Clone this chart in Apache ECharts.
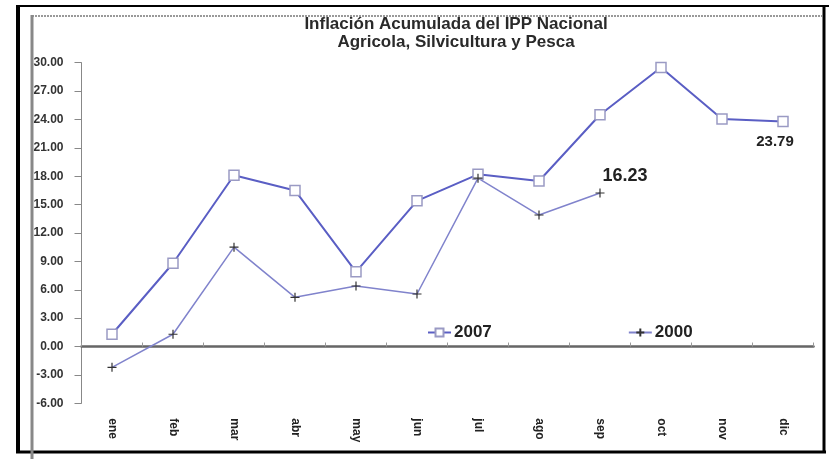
<!DOCTYPE html>
<html><head><meta charset="utf-8">
<script src="https://cdn.jsdelivr.net/npm/echarts@6/dist/echarts.min.js"></script>
<style>html,body{margin:0;padding:0;background:#fff}#c{width:829px;height:459px}</style>
</head><body><div id="c"></div>
<script>
var categories = ['ene','feb','mar','abr','may','jun','jul','ago','sep','oct','nov','dic'];
var values2007 = [1.3, 8.8, 18.1, 16.5, 7.9, 15.4, 18.2, 17.5, 24.5, 29.5, 24.05, 23.79];
var values2000 = [-2.2, 1.3, 10.5, 5.2, 6.4, 5.55, 17.8, 13.9, 16.23, null, null, null];
var seriesNames = ['2007', '2000'];
var titleLines = ['Inflación Acumulada del IPP Nacional', 'Agricola, Silvicultura y Pesca'];

function withLastLabel(arr, labelOpt) {
  var last = -1;
  arr.forEach(function (v, i) { if (v !== null) last = i; });
  return arr.map(function (v, i) {
    if (i === last) return { value: v, label: labelOpt };
    return v;
  });
}

var chart = echarts.init(document.getElementById('c'), null, { renderer: 'canvas' });
var plusPath = 'path://M0,5L10,5M5,0L5,10';
chart.setOption({
  animation: false,
  backgroundColor: '#fff',
  title: {
    text: titleLines.join('\n'),
    left: 456, top: 15, textAlign: 'center', padding: 0,
    textStyle: { fontFamily: 'Liberation Sans, Arial', fontSize: 17, fontWeight: 'bold', color: '#2a2a2a', lineHeight: 18.5 }
  },
  legend: {
    left: 427, top: 324, padding: 0,
    itemGap: 136, itemWidth: 23, itemHeight: 10,
    textStyle: { fontFamily: 'Liberation Sans, Arial', fontSize: 17, fontWeight: 'bold', color: '#222', padding: [0, 0, 0, -2] },
    data: seriesNames
  },
  grid: { left: 81.5, right: 15.5, top: 62.7, bottom: 55.7, containLabel: false },
  xAxis: [{
    type: 'category', data: categories, boundaryGap: true,
    axisLine: { onZero: true, lineStyle: { color: '#666', width: 2.5 } },
    axisTick: { show: true, inside: true, length: 4, lineStyle: { color: '#999' } },
    axisLabel: { show: false }
  }, {
    type: 'category', data: categories, boundaryGap: true, position: 'bottom',
    axisLine: { show: false, onZero: false }, axisTick: { show: false },
    axisLabel: { rotate: -90, margin: 15, fontFamily: 'Liberation Sans, Arial', fontSize: 12, fontWeight: 'bold', color: '#222' }
  }],
  yAxis: {
    type: 'value', min: -6, max: 30, interval: 3,
    splitLine: { show: false },
    axisLine: { show: true, lineStyle: { color: '#888', width: 1 } },
    axisTick: { show: true, length: 7, lineStyle: { color: '#888' } },
    axisLabel: { margin: 18, formatter: function (v) { return v.toFixed(2); }, fontFamily: 'Liberation Sans, Arial', fontSize: 12, fontWeight: 'bold', color: '#333' }
  },
  series: [{
    name: seriesNames[0], type: 'line', xAxisIndex: 0,
    data: withLastLabel(values2007, { show: true, position: 'bottom', offset: [-8, 2], formatter: '{c}', fontFamily: 'Liberation Sans, Arial', fontSize: 15, fontWeight: 'bold', color: '#222' }),
    symbol: 'rect', symbolSize: 10,
    lineStyle: { color: '#5a5ec4', width: 2 },
    itemStyle: { color: '#fff', borderColor: '#9a9ac4', borderWidth: 1.5 }
  }, {
    name: seriesNames[1], type: 'line', xAxisIndex: 0,
    data: withLastLabel(values2000, { show: true, position: 'top', offset: [25, 4], formatter: '{c}', fontFamily: 'Liberation Sans, Arial', fontSize: 18, fontWeight: 'bold', color: '#222' }),
    symbol: plusPath, symbolSize: 9,
    lineStyle: { color: '#8083cc', width: 1.5 },
    itemStyle: { color: 'none', borderColor: '#333', borderWidth: 1.2 }
  }],
  graphic: [
    { type: 'line', shape: { x1: 17, y1: 6, x2: 829, y2: 6 }, style: { stroke: '#000', lineWidth: 2 } },
    { type: 'line', shape: { x1: 18, y1: 5, x2: 18, y2: 453 }, style: { stroke: '#000', lineWidth: 4 } },
    { type: 'line', shape: { x1: 16, y1: 452, x2: 826, y2: 452 }, style: { stroke: '#000', lineWidth: 3 } },
    { type: 'line', shape: { x1: 824, y1: 5, x2: 824, y2: 453 }, style: { stroke: '#000', lineWidth: 3 } },
    { type: 'line', shape: { x1: 32, y1: 16, x2: 822, y2: 16 }, style: { stroke: '#999', lineWidth: 2, lineDash: [2, 1] } },
    { type: 'line', shape: { x1: 32, y1: 15, x2: 32, y2: 459 }, style: { stroke: '#888', lineWidth: 3 } }
  ]
});
</script>
</body></html>
